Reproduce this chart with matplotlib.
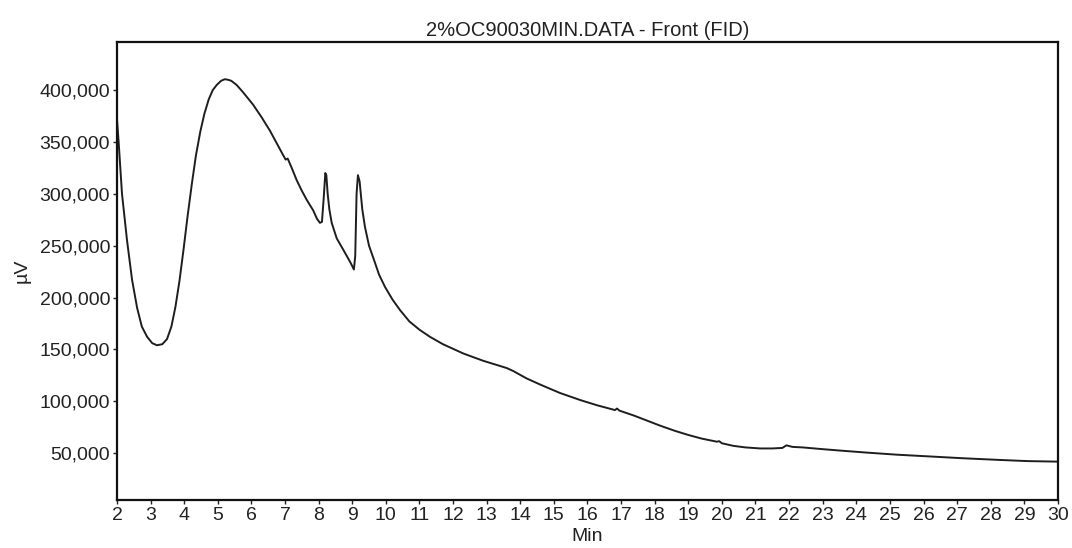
import matplotlib
matplotlib.use("Agg")
import matplotlib.pyplot as plt
from matplotlib.ticker import FuncFormatter

plt.rcParams['font.family'] = ['Liberation Sans', 'DejaVu Sans']

# FID trace: retention time (min) and detector signal (µV)
time_min = [2.00, 2.05, 2.15, 2.30, 2.45, 2.60, 2.74, 2.90, 3.05, 3.19, 3.35, 3.49,
            3.62, 3.74, 3.86, 3.98, 4.10, 4.23, 4.35, 4.48, 4.60, 4.73, 4.85, 4.97,
            5.10, 5.21, 5.30, 5.40, 5.56, 5.75, 6.05, 6.30, 6.55, 6.80, 6.95, 7.02,
            7.08, 7.12, 7.20, 7.35, 7.50, 7.65, 7.84, 7.95, 8.04, 8.10, 8.15, 8.20,
            8.23, 8.27, 8.32, 8.39, 8.54, 8.70, 8.84, 8.96, 9.05, 9.09, 9.13, 9.17,
            9.22, 9.30, 9.38, 9.50, 9.63, 9.80, 9.98, 10.2, 10.42, 10.7, 11.0, 11.32,
            11.7, 12.31, 12.9, 13.3, 13.6, 13.8, 14.19, 14.6, 15.18, 15.8, 16.3, 16.82,
            16.88, 16.95, 17.4, 17.8, 18.16, 18.6, 19.0, 19.4, 19.85, 19.92, 20.0, 20.34,
            20.7, 21.14, 21.5, 21.8, 21.92, 21.98, 22.1, 22.4, 22.93, 23.5, 24.31, 25.2,
            26.29, 27.2, 28.28, 29.1, 29.97]
signal_uv = [372000, 350000, 300000, 255000, 217000, 190000, 172000, 162000, 156000,
             154000, 155000, 160000, 172000, 191000, 216000, 246000, 278000, 310000,
             337000, 360000, 377000, 391000, 400000, 405000, 409000, 410500, 410000,
             409000, 405000, 398000, 386000, 374000, 361000, 346000, 337000, 333000,
             334000, 331000, 325000, 313000, 303000, 294000, 284000, 276000, 272000,
             273000, 295000, 320000, 318000, 300000, 285000, 272000, 257000, 248000,
             240000, 233000, 227000, 240000, 300000, 318000, 312000, 285000, 268000,
             250000, 238000, 222000, 210000, 198000, 188000, 177000, 169000, 162000,
             155000, 146000, 139000, 135000, 132000, 129000, 122000, 116000, 108000,
             101000, 96000, 91500, 93000, 91000, 86000, 81000, 76500, 71500, 67500,
             64000, 61000, 61500, 59500, 57000, 55500, 54500, 54500, 55000, 57500,
             57000, 56000, 55500, 54000, 52500, 50500, 48500, 46600, 45000, 43400,
             42300, 41800]

x_ticks = list(range(2, 31))
y_ticks = [50000, 100000, 150000, 200000, 250000, 300000, 350000, 400000]

fig = plt.figure(figsize=(10.72, 5.48), dpi=100)
ax = fig.add_axes([0.1091, 0.0876, 0.8778, 0.8358])

ax.plot(time_min, signal_uv, color='#1e1e1e', lw=1.4)

ax.set_xlim(2, 30)
ax.set_ylim(4800, 446400)
ax.set_xticks(x_ticks)
ax.set_yticks(y_ticks)
ax.yaxis.set_major_formatter(FuncFormatter(lambda v, p: f"{int(v):,}"))

ax.tick_params(direction='out', length=3, width=1, labelsize=14,
               colors='#222222', pad=2)
for s in ax.spines.values():
    s.set_linewidth(1.6)
    s.set_color('#111111')

ax.set_title("2%OC90030MIN.DATA - Front (FID)", fontsize=14.5, color='#222222', pad=4)
ax.set_xlabel("Min", fontsize=14, color='#222222', labelpad=3)
ax.set_ylabel("µV", fontsize=14, color='#222222', labelpad=6)

fig.savefig("out.png", dpi=100, facecolor='white')
